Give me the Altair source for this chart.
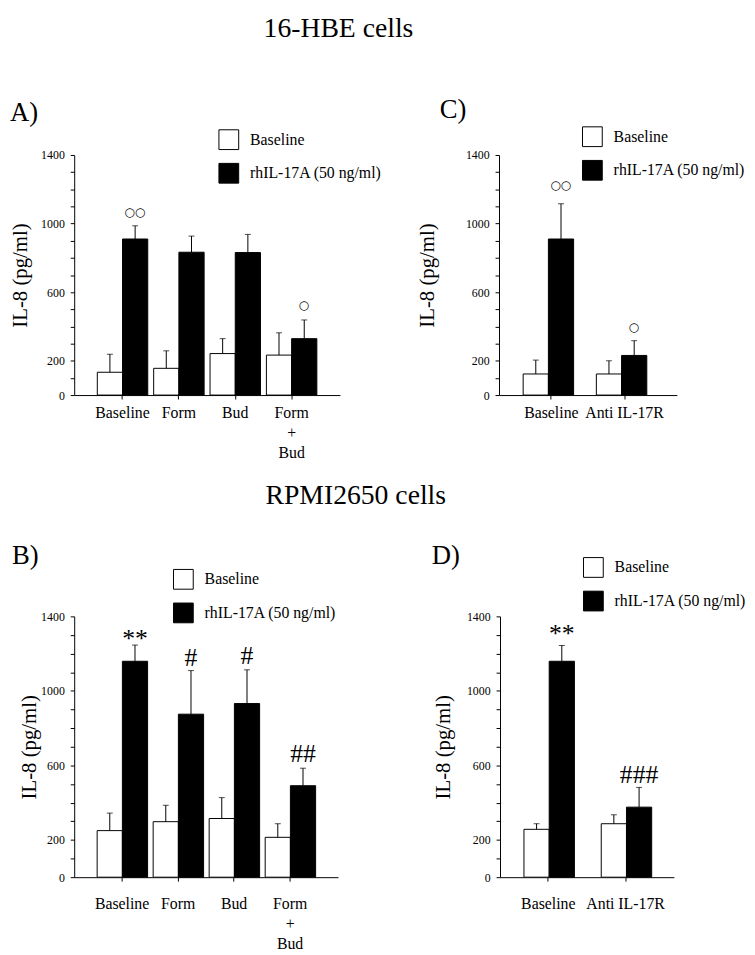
import altair as alt
import pandas as pd

GROUPS = ["Baseline", "rhIL-17A (50 ng/ml)"]
SERIF = "Liberation Serif"

# ---- Panel A (16-HBE) ----
A_cats = ["Baseline", "Form", "Bud", "Form\n+\nBud"]
A_base = [133, 156, 242, 233]
A_base_err = [105, 102, 87, 130]
A_rh = [910, 833, 831, 329]
A_rh_err = [77, 94, 106, 109]
A_ann_cat = ["Baseline", "Form\n+\nBud"]
A_ann_txt = ["○○", "○"]
A_ann_y = [1069, 527]

# ---- Panel C (16-HBE) ----
C_cats = ["Baseline", "Anti IL-17R"]
C_base = [123, 123]
C_base_err = [81, 77]
C_rh = [910, 231]
C_rh_err = [205, 86]
C_ann_cat = ["Baseline", "Anti IL-17R"]
C_ann_txt = ["○○", "○"]
C_ann_y = [1223, 396]

# ---- Panel B (RPMI2650) ----
B_cats = ["Baseline", "Form", "Bud", "Form\n+\nBud"]
B_base = [250, 298, 315, 214]
B_base_err = [94, 88, 112, 73]
B_rh = [1159, 875, 932, 491]
B_rh_err = [87, 234, 181, 94]
B_ann_cat = ["Baseline", "Form", "Bud", "Form\n+\nBud"]
B_ann_txt = ["**", "#", "#", "##"]
B_ann_y = [1306, 1200, 1214, 686]

# ---- Panel D (RPMI2650) ----
D_cats = ["Baseline", "Anti IL-17R"]
D_base = [257, 287]
D_base_err = [30, 48]
D_rh = [1159, 376]
D_rh_err = [85, 106]
D_ann_cat = ["Baseline", "Anti IL-17R"]
D_ann_txt = ["**", "###"]
D_ann_y = [1333, 577]

Y_TICKS = list(range(0, 1401, 100))
Y_LABELED = [0, 200, 600, 1000, 1400]


def panel(cats, base, base_err, rh, rh_err, ann_cat, ann_txt, ann_y,
          w, h, pi, po, letter, letter_dx, letter_dy, lx, ly, tpad,
          ann_font, ann_size, ann_dy, xpad):
    rows = []
    for c, v, e in zip(cats, base, base_err):
        rows.append(dict(cat=c, group=GROUPS[0], value=v, top=v + e))
    for c, v, e in zip(cats, rh, rh_err):
        rows.append(dict(cat=c, group=GROUPS[1], value=v, top=v + e))
    df = pd.DataFrame(rows)
    ann = pd.DataFrame(dict(cat=ann_cat, group=[GROUPS[1]] * len(ann_cat),
                            label=ann_txt, y=ann_y))

    x = alt.X("cat:N",
              scale=alt.Scale(domain=cats, paddingInner=pi, paddingOuter=po),
              axis=alt.Axis(title=None, labelAngle=0,
                            labelExpr="split(datum.label, '\\n')",
                            labelFont=SERIF, labelFontSize=16,
                            labelLineHeight=20, labelPadding=xpad,
                            labelColor="black", tickSize=4,
                            tickColor="black", domainColor="black"))
    xo = alt.XOffset("group:N", scale=alt.Scale(domain=GROUPS))
    yscale = alt.Scale(domain=[0, 1400], nice=False)
    labexpr = ("indexof([" + ",".join(str(v) for v in Y_LABELED) +
               "], datum.value) >= 0 ? datum.label : ''")
    yaxis = alt.Axis(title="IL-8 (pg/ml)", values=Y_TICKS, format="d",
                     labelExpr=labexpr, labelOverlap=False,
                     labelFont=SERIF, labelFontSize=12, labelColor="black",
                     labelPadding=6, tickSize=4, tickColor="black",
                     domainColor="black", grid=False,
                     titleFont=SERIF, titleFontSize=21,
                     titleFontWeight="normal", titleColor="black",
                     titlePadding=tpad)

    basec = alt.Chart(df)
    bars = basec.mark_bar(stroke="black", strokeWidth=1).encode(
        x=x, xOffset=xo,
        y=alt.Y("value:Q", scale=yscale, axis=yaxis),
        fill=alt.Fill("group:N",
                      scale=alt.Scale(domain=GROUPS, range=["white", "black"]),
                      legend=alt.Legend(title=None, orient="none",
                                        legendX=lx, legendY=ly,
                                        symbolType="square", symbolSize=400,
                                        symbolStrokeColor="black",
                                        symbolStrokeWidth=1,
                                        labelFont=SERIF, labelFontSize=16,
                                        labelColor="black", rowPadding=9,
                                        labelOffset=11, padding=0)),
    )
    err = basec.mark_rule(color="black", strokeWidth=1).encode(
        x=x, xOffset=xo, y=alt.Y("value:Q", scale=yscale, axis=yaxis),
        y2="top:Q")
    cap = basec.mark_tick(color="black", thickness=1, size=6,
                          orient="horizontal").encode(
        x=x, xOffset=xo, y=alt.Y("top:Q", scale=yscale, axis=yaxis))
    txt = alt.Chart(ann).mark_text(font=ann_font, fontSize=ann_size,
                                   baseline="middle", dy=ann_dy,
                                   color="black", fill="black").encode(
        x=x, xOffset=xo, y=alt.Y("y:Q", scale=yscale, axis=yaxis),
        text="label:N")

    return alt.layer(bars, err, cap, txt).properties(
        width=w, height=h,
        title=alt.TitleParams(text=letter, anchor="start", frame="group",
                              dx=letter_dx, dy=letter_dy, fontSize=27,
                              font=SERIF, fontWeight="normal",
                              color="black", offset=2),
    )


pA = panel(A_cats, A_base, A_base_err, A_rh, A_rh_err, A_ann_cat, A_ann_txt,
           A_ann_y, 269, 243, 0.105, 0.41, "A)", -65, 0, 146, -26, 10,
           "DejaVu Sans", 12, 0, 6)
pC = panel(C_cats, C_base, C_base_err, C_rh, C_rh_err, C_ann_cat, C_ann_txt,
           C_ann_y, 180, 243, 0.23, 0.33, "C)", -60, 0, 84, -29, 28,
           "DejaVu Sans", 12, 0, 6)
pB = panel(B_cats, B_base, B_base_err, B_rh, B_rh_err, B_ann_cat, B_ann_txt,
           B_ann_y, 267, 264, 0.11, 0.41, "B)", -63, 3, 100, -48, 1,
           SERIF, 26, 5, 15)
pD = panel(D_cats, D_base, D_base_err, D_rh, D_rh_err, D_ann_cat, D_ann_txt,
           D_ann_y, 176, 264, 0.37, 0.31, "D)", -69, 15, 84, -60, 13,
           SERIF, 26, 5, 15)

row1 = alt.hconcat(pA, pC, spacing=35, title=alt.TitleParams(
    text="16-HBE cells", anchor="middle", fontSize=28,
    font=SERIF, fontWeight="normal", color="black",
    offset=54, dx=-40)
).resolve_scale(fill="independent")
row2 = alt.hconcat(pB, pD, spacing=95, title=alt.TitleParams(
    text="RPMI2650 cells", anchor="middle", fontSize=28, font=SERIF,
    fontWeight="normal", color="black", offset=33, dx=-24)
).resolve_scale(fill="independent")

chart = alt.vconcat(row1, row2, spacing=22).resolve_scale(
    fill="independent").properties(
    padding={"top": 2, "left": 2, "right": 0, "bottom": 0},
    background="white").configure(font=SERIF).configure_view(stroke=None)

chart.save("out.html", embed_options={"renderer": "svg", "actions": False})
